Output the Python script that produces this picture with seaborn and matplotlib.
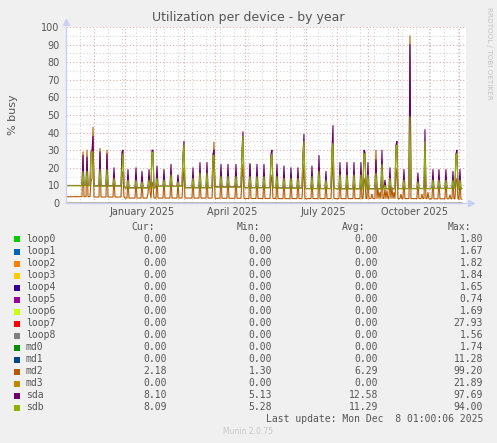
import pandas as pd
import matplotlib
matplotlib.use("Agg")
import matplotlib.pyplot as plt
import matplotlib.dates as mdates
from matplotlib.patches import Rectangle
import seaborn as sns

# Legend table printed under the graph
devices = ['loop0', 'loop1', 'loop2', 'loop3', 'loop4', 'loop5', 'loop6', 'loop7',
           'loop8', 'md0', 'md1', 'md2', 'md3', 'sda', 'sdb']
colors = ['#00CC00', '#0066B3', '#FF8000', '#FFCC00', '#330099', '#990099', '#CCFF00',
          '#FF0000', '#808080', '#008F00', '#00487D', '#B35A00', '#B38F00', '#6B006B', '#8FB300']
cur_vals = [0.00, 0.00, 0.00, 0.00, 0.00, 0.00, 0.00, 0.00, 0.00, 0.00, 0.00, 2.18, 0.00, 8.10, 8.09]
min_vals = [0.00, 0.00, 0.00, 0.00, 0.00, 0.00, 0.00, 0.00, 0.00, 0.00, 0.00, 1.30, 0.00, 5.13, 5.28]
avg_vals = [0.00, 0.00, 0.00, 0.00, 0.00, 0.00, 0.00, 0.00, 0.00, 0.00, 0.00, 6.29, 0.00, 12.58, 11.29]
max_vals = [1.80, 1.67, 1.82, 1.84, 1.65, 0.74, 1.69, 27.93, 1.56, 1.74, 11.28, 99.20, 21.89, 97.69, 94.00]

# Daily averages over the 400 day window
start = '2024-11-03'
n_days = 397
month_keys = ['2024-11', '2024-12', '2025-01', '2025-02', '2025-03', '2025-04', '2025-05',
              '2025-06', '2025-07', '2025-08', '2025-09', '2025-10', '2025-11', '2025-12']
sda_base = [9.95, 9.75, 8.65, 9.55, 8.75, 9.15, 8.75, 8.55, 8.25, 8.15, 8.15, 8.25, 8.35, 8.1]
sdb_base = [9.8, 9.6, 8.5, 9.4, 8.6, 9.0, 8.6, 8.4, 8.1, 8.0, 8.0, 8.1, 8.2, 8.1]
md2_base = [3.6, 3.4, 2.8, 2.8, 2.8, 2.7, 2.6, 2.5, 2.5, 2.5, 2.6, 2.5, 2.4, 2.2]

# weekly busy days (day number from start)
spike_day = [17, 21, 25, 26, 27, 34, 41, 48, 56, 57, 62, 70, 76, 83, 86,
             87, 91, 98, 105, 112, 117, 118, 127, 134, 141, 147, 148, 155, 162, 170,
             176, 177, 184, 191, 198, 205, 206, 211, 218, 225, 232, 237, 238, 246, 253,
             260, 266, 267, 274, 281, 288, 295, 298, 299, 302, 310, 316, 319, 324, 330,
             331, 338, 344, 352, 359, 367, 373, 380, 387, 390, 391, 394]
sda_peak = [27, 26, 29, 30, 38, 29, 28, 20, 29, 30, 19, 20, 18, 19, 30,
            30, 21, 19, 22, 16, 28, 35, 20, 23, 23, 28, 30, 22, 22, 22,
            30, 40.5, 22, 22, 22, 28, 30, 22, 21, 20, 20, 28, 39, 21, 27,
            18, 30, 44, 23, 23, 23, 23, 30, 29, 23, 24.5, 30, 13, 20, 33,
            35, 19, 90, 17, 41.7, 19, 19, 19, 18, 28, 30, 19]
sdb_peak = [18, 18, 29, 29, 29, 19, 19, 14, 20, 28, 13, 13, 12, 13, 29,
            28, 14, 13, 16, 12, 27, 33, 14, 17, 17, 27, 27, 15, 15, 15,
            29, 38, 15, 15, 15, 25, 28, 15, 14, 14, 14, 27, 35, 15, 18,
            13, 29, 34, 16, 16, 16, 16, 28, 28, 16, 17, 22, 10, 14, 32,
            33, 13, 49, 12, 35, 13, 13, 13, 13, 27, 28, 13]
md2_peak = [29, 30, 12, 14, 43, 31, 30, 15, 18, 16, 14, 14, 13, 14, 12,
            10, 15, 14, 16, 12, 12, 20, 15, 17, 17, 14, 34.5, 16, 16, 16,
            14, 22, 22.5, 16, 16, 12, 16, 16, 15, 15, 15, 12, 22, 15, 20,
            13, 14, 24, 17, 17, 17, 17, 12, 14, 17, 30, 24, 8, 15, 14,
            20, 14, 95, 13, 24, 14, 14, 14, 14, 12, 14, 14]
md2_bump_day = [82, 84, 306, 312, 314, 321, 326, 328, 335, 356, 362, 384]
md2_bump = [5.5, 6.5, 5, 8, 6, 7, 9, 6, 5, 5, 6, 4.5]

month_labels = ['January 2025', 'April 2025', 'July 2025', 'October 2025']
label_months = ['2025-01-01', '2025-04-01', '2025-07-01', '2025-10-01']

# build the daily table
dates = pd.date_range(start, periods=n_days, freq='D')
base = pd.DataFrame({'sda': sda_base, 'sdb': sdb_base, 'md2': md2_base}, index=month_keys)
df = base.loc[dates.strftime('%Y-%m')].reset_index(drop=True)
df.loc[spike_day, 'sda'] = sda_peak
df.loc[spike_day, 'sdb'] = sdb_peak
df.loc[spike_day, 'md2'] = md2_peak
df.loc[md2_bump_day, 'md2'] = md2_bump
for d in devices:
    if d not in df.columns:
        df[d] = 0.0
df['date'] = dates
long_df = df.melt(id_vars='date', value_vars=devices, var_name='device', value_name='busy')

# figure
W, H = 497, 443
sns.set_style('white')
plt.rcParams['font.family'] = ['DejaVu Sans']
txt = '#555555'
fig = plt.figure(figsize=(W / 100, H / 100), dpi=100, facecolor='#F0F0F0')
ax = fig.add_axes([66 / W, (H - 203) / H, 400 / W, 176 / H])
ax.set_facecolor('white')

sns.lineplot(data=long_df, x='date', y='busy', hue='device', hue_order=devices,
             palette=dict(zip(devices, colors)), linewidth=0.8, estimator=None,
             errorbar=None, legend=False, ax=ax)

ax.set_xlim(pd.Timestamp(start), pd.Timestamp('2025-12-08 01:00'))
ax.set_ylim(0, 100)
ax.set_yticks(range(0, 101, 10))
ax.set_yticks(range(5, 100, 10), minor=True)
ax.xaxis.set_major_locator(mdates.MonthLocator())
ax.set_xticks(pd.date_range('2024-11-17', '2025-12-08', freq='14D'), minor=True)
ax.xaxis.set_major_formatter(plt.NullFormatter())
ax.tick_params(axis='both', which='both', length=0)
ax.tick_params(axis='y', labelsize=7, labelcolor=txt, pad=4.5)
ax.grid(which='minor', color='#d4d4d4', linestyle=(0, (1, 2)), linewidth=0.8)
ax.grid(which='major', color='#e6a8a8', linestyle=(0, (1, 2)), linewidth=0.8)
ax.set_axisbelow(True)
ax.set_xlabel('')
ax.set_ylabel('% busy', fontsize=8, color=txt, labelpad=17)
for s in ['top', 'right']:
    ax.spines[s].set_visible(False)
for s in ['left', 'bottom']:
    ax.spines[s].set_color('#c8d0f4')
    ax.spines[s].set_linewidth(1)
ax.plot([0], [1.03], marker='^', color='#c8d0f4', markersize=5, transform=ax.transAxes, clip_on=False)
ax.plot([1.012], [0], marker='>', color='#c8d0f4', markersize=5, transform=ax.transAxes, clip_on=False)

for lab, m in zip(month_labels, label_months):
    ax.text(pd.Timestamp(m) + pd.Timedelta(days=17), -0.05, lab, transform=ax.get_xaxis_transform(),
            ha='center', va='center', fontsize=7, color=txt)

fig.text(248 / W, 1 - 18 / H, 'Utilization per device - by year', ha='center', va='center',
         fontsize=9, color=txt)
fig.text(489 / W, 1 - 53 / H, 'RRDTOOL / TOBI OETIKER', rotation=270, ha='center', va='center',
         fontsize=5.2, color='#c4c4c4')

# legend table
mono = 'DejaVu Sans Mono'
def ftext(x, y, s, **kw):
    fig.text(x / W, 1 - y / H, s, va='center', family=mono, fontsize=7, color=txt, **kw)

for x, h in zip([155, 260, 365, 471], ['Cur:', 'Min:', 'Avg:', 'Max:']):
    ftext(x, 227, h, ha='right')
for i, dev in enumerate(devices):
    y = 239.5 + 12 * i
    fig.add_artist(Rectangle((14 / W, 1 - (y + 3) / H), 6 / W, 6 / H, transform=fig.transFigure,
                             facecolor=colors[i], edgecolor='none'))
    ftext(26, y, dev, ha='left')
    for x, v in zip([167, 272, 378, 483], [cur_vals[i], min_vals[i], avg_vals[i], max_vals[i]]):
        ftext(x, y, f'{v:.2f}', ha='right')
ftext(483, 419.5, 'Last update: Mon Dec  8 01:00:06 2025', ha='right')
fig.text(248 / W, 1 - 432 / H, 'Munin 2.0.75', ha='center', va='center', fontsize=5.5, color='#c8c8c8')

fig.savefig('out.png', dpi=100, facecolor=fig.get_facecolor())
